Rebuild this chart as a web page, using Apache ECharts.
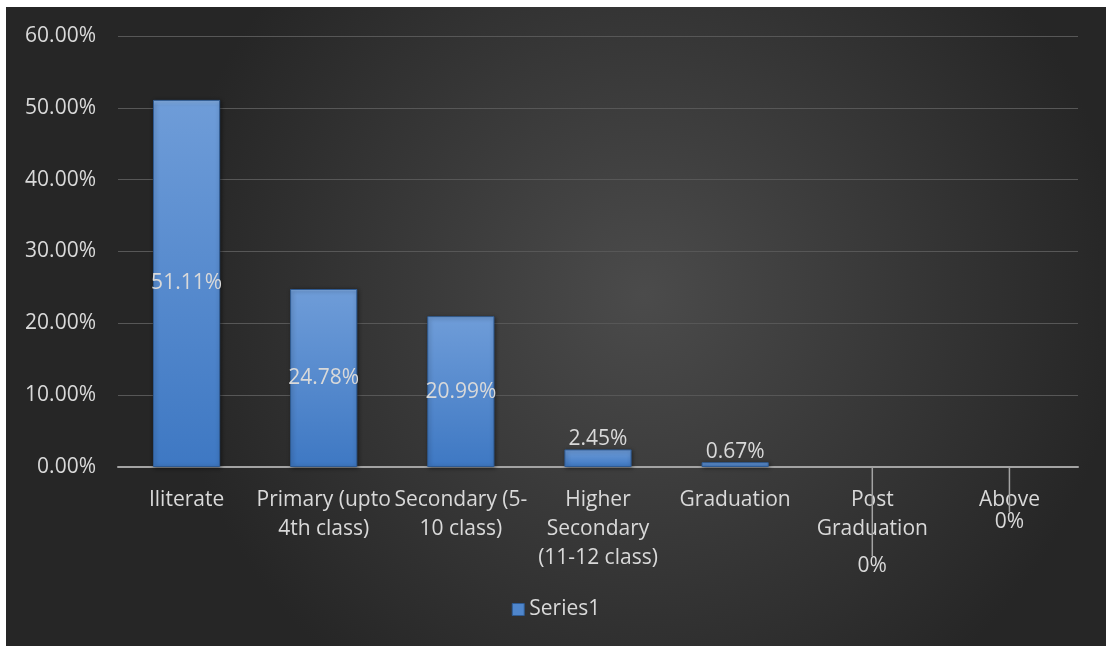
<!DOCTYPE html>
<html>
<head>
<meta charset="utf-8">
<script src="https://cdn.jsdelivr.net/npm/echarts@6/dist/echarts.min.js"></script>
<style>
  html, body { margin: 0; padding: 0; background: #ffffff; }
  #chart { position: absolute; left: 6px; top: 7px; width: 1100px; height: 639px; }
</style>
</head>
<body>
<div id="chart"></div>
<script>
// Education levels and share of respondents (%)
const categories = [
  'Iliterate',
  'Primary (upto\n4th class)',
  'Secondary (5-\n10 class)',
  'Higher\nSecondary\n(11-12 class)',
  'Graduation',
  'Post\nGraduation',
  'Above'
];
const values = [51.11, 24.78, 20.99, 2.45, 0.67, 0, 0];
const seriesName = 'Series1';
const yTicks = { min: 0, max: 60, interval: 10 };

const textColor = '#d9d9d9';
const fontFamily = 'Open Sans, Noto Sans, sans-serif';
const fontSize = 21;

// label placement per bar: inside for tall bars, above for short ones,
// and pulled away with a leader line for the empty ones
const labelStyle = [
  { position: 'inside' },
  { position: 'inside' },
  { position: 'inside' },
  { position: 'top' },
  { position: 'top' },
  { position: 'top', dy: 110 },
  { position: 'top', dy: 66 }
];

const barFill = new echarts.graphic.LinearGradient(0, 0, 0, 1, [
  { offset: 0, color: '#8ab4e8' },
  { offset: 0.015, color: '#6e9cd8' },
  { offset: 1, color: '#3e78c3' }
]);

const chart = echarts.init(document.getElementById('chart'));
chart.setOption({
  backgroundColor: new echarts.graphic.RadialGradient(0.58, 0.45, 0.75, [
    { offset: 0, color: '#4b4b4b' },
    { offset: 1, color: '#262626' }
  ]),
  textStyle: { fontFamily: fontFamily },
  grid: { left: 112, right: 28, top: 29, bottom: 179, containLabel: false },
  legend: {
    bottom: 21,
    left: 'center',
    itemWidth: 12,
    itemHeight: 12,
    itemGap: 6,
    icon: 'rect',
    itemStyle: { color: '#4f86cc', borderColor: '#2f5b93', borderWidth: 1, shadowBlur: 0 },
    textStyle: { color: textColor, fontSize: fontSize, fontFamily: fontFamily },
    data: [seriesName]
  },
  xAxis: {
    type: 'category',
    data: categories,
    axisLine: { lineStyle: { color: '#a3a3a3', width: 2 } },
    axisTick: { show: false },
    axisLabel: {
      color: textColor,
      fontSize: fontSize,
      lineHeight: 29,
      margin: 19,
      interval: 0,
      verticalAlign: 'top'
    }
  },
  yAxis: {
    type: 'value',
    min: yTicks.min,
    max: yTicks.max,
    interval: yTicks.interval,
    axisLine: { show: false },
    axisTick: { show: false },
    splitLine: { lineStyle: { color: '#575757', width: 1 } },
    axisLabel: {
      color: textColor,
      fontSize: fontSize,
      margin: 22,
      formatter: v => v.toFixed(2) + '%'
    }
  },
  series: [{
    name: seriesName,
    type: 'bar',
    barWidth: '49%',
    data: values.map((v, i) => ({
      value: v,
      label: { position: labelStyle[i].position },
      labelLine: { show: !!labelStyle[i].dy },
      itemStyle: v === 0
        ? { color: 'rgba(0,0,0,0)', borderWidth: 0, shadowBlur: 0, shadowOffsetX: 0, shadowOffsetY: 0 }
        : {}
    })),
    itemStyle: {
      color: barFill,
      borderColor: '#2f5b93',
      borderWidth: 1,
      shadowColor: 'rgba(0,0,0,0.45)',
      shadowBlur: 4,
      shadowOffsetX: 1,
      shadowOffsetY: 1
    },
    label: {
      show: true,
      color: textColor,
      fontSize: fontSize,
      distance: 0,
      formatter: p => (p.value === 0 ? '0%' : p.value.toFixed(2) + '%')
    },
    labelLine: {
      show: false,
      lineStyle: { color: '#a3a3a3', width: 1.5 }
    },
    labelLayout: p => {
      const s = labelStyle[p.dataIndex];
      return s.dy ? { dy: s.dy } : {};
    }
  }]
});
</script>
</body>
</html>
